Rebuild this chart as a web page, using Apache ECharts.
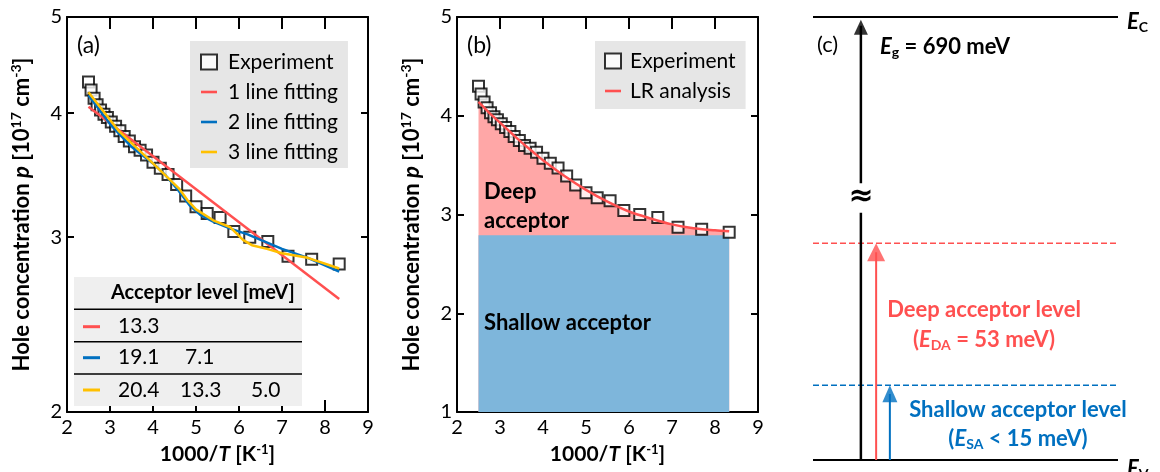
<!DOCTYPE html>
<html><head><meta charset="utf-8">
<script src="https://cdn.jsdelivr.net/npm/echarts@6/dist/echarts.min.js"></script>
<style>html,body{margin:0;padding:0;background:#fff}#c{width:1160px;height:472px}</style>
</head><body><div id="c"></div>
<script>
// ---------- data ----------
const invT = [2.50,2.56,2.63,2.70,2.78,2.86,2.94,3.03,3.13,3.23,3.33,3.45,3.57,3.70,3.85,4.00,4.17,4.35,4.55,4.76,5.00,5.26,5.56,5.88,6.25,6.67,7.14,7.69,8.33];
const holeP = [4.30,4.22,4.14,4.08,4.03,3.99,3.96,3.92,3.88,3.84,3.79,3.75,3.70,3.67,3.63,3.57,3.52,3.47,3.39,3.30,3.22,3.17,3.14,3.04,3.00,2.97,2.87,2.85,2.82];
const fit1X = [2.50, 8.33];
const fit1P = [4.06, 2.60];
const fit2X = [2.50,3.00,3.50,4.00,4.30,4.60,4.85,5.10,5.40,5.80,6.20,6.60,7.00,7.60,8.33];
const fit2P = [4.17,3.90,3.70,3.56,3.46,3.34,3.23,3.16,3.11,3.06,3.02,2.97,2.92,2.86,2.77];
const fit3X = [2.50,3.20,4.00,4.60,4.80,5.00,5.40,5.80,6.10,6.30,6.65,7.00,7.60,8.33];
const fit3P = [4.20,3.84,3.56,3.36,3.27,3.20,3.12,3.07,2.98,2.945,2.92,2.89,2.86,2.79];
const lrX = [2.50,2.75,3.00,3.25,3.50,3.75,4.00,4.50,5.00,5.50,6.00,6.50,7.00,7.50,8.00,8.33];
const lrP = [4.14,4.03,3.93,3.83,3.73,3.64,3.55,3.39,3.25,3.13,3.03,2.96,2.90,2.86,2.84,2.83];
const shallowX = [2.50, 8.33];
const shallowP = [2.79, 2.79];
const yLabelsA = [2,3,4,5];
const yTicksA = [3,4];
const tableHeader = 'Acceptor level [meV]';
const tableRows = [['13.3'],['19.1','7.1'],['20.4','13.3','5.0']];
// energy diagram (arbitrary energy units, Ev = 0, Ec = 100; axis broken)
const levelEv = 0, levelEc = 100, levelDeep = 48.9, levelShallow = 16.9;
const breakLow = 55.8, breakHigh = 62.5;
const arrowGapX = 0.157, arrowDeepX = 0.207, arrowShallowX = 0.252;

// ---------- styles ----------
const FF = 'Lato, "Open Sans", sans-serif';
const RED = '#ff5050', BLUE = '#0070c0', YEL = '#ffc000';
const PINK = '#ffa7a7', LBLUE = '#7eb6db';
const zip = (a,b) => a.map((v,i)=>[v,b[i]]);
const LINE_ICON = 'path://M0,0L16,0L16,2.6L0,2.6Z';

const nameRich = {
  b:{fontFamily:FF,fontSize:21,fontWeight:'bold',color:'#000'},
  i:{fontFamily:FF,fontSize:21,fontWeight:'bold',fontStyle:'italic',color:'#000'},
  sup:{fontFamily:FF,fontSize:13,fontWeight:'bold',color:'#000',padding:[0,0,10,0]}
};
const nameRichY = {
  b:{fontFamily:FF,fontSize:22,fontWeight:'bold',color:'#000'},
  i:{fontFamily:FF,fontSize:22,fontWeight:'bold',fontStyle:'italic',color:'#000'},
  sup:{fontFamily:FF,fontSize:14,fontWeight:'bold',color:'#000',padding:[0,0,11,0]}
};
const yName = '{b|Hole concentration }{i|p}{b| [10}{sup|17}{b| cm}{sup|-3}{b|]}';
const xName = '{b|1000/}{i|T}{b| [K}{sup|-1}{b|]}';
const axLine = {show:true,onZero:false,lineStyle:{color:'#000',width:2}};
const lbl = {color:'#000',fontFamily:FF,fontSize:20};

function xAxes(g){
  return [
    {gridIndex:g,type:'value',min:2,max:9,interval:1,position:'bottom',axisLine:axLine,
     axisTick:{inside:true,length:12,lineStyle:{color:'#000',width:2}},
     axisLabel:Object.assign({margin:6},lbl),splitLine:{show:false},
     name:xName,nameLocation:'middle',nameGap:29,nameTextStyle:{rich:nameRich}},
    {gridIndex:g,type:'value',min:2,max:9,interval:1,position:'top',axisLine:axLine,
     axisTick:{inside:true,length:12,lineStyle:{color:'#000',width:2}},
     axisLabel:{show:false},splitLine:{show:false}}
  ];
}

const graphics = [];
function txt(x,y,text,opt){
  graphics.push({type:'text',x:x,y:y,z:100,style:Object.assign({text:text,fill:'#000',fontFamily:FF,fontSize:20,verticalAlign:'middle',align:'left'},opt||{})});
}
// panel labels
txt(77,46,'(a)',{fontSize:23});
txt(467,46,'(b)',{fontSize:23});
txt(817,45,'(c)',{fontSize:22});
// panel b region texts
txt(484,192,'Deep',{fontWeight:'bold',fontSize:22});
txt(484,221,'acceptor',{fontWeight:'bold',fontSize:22});
txt(484,323,'Shallow acceptor',{fontWeight:'bold',fontSize:22});
// table in panel a
graphics.push({type:'rect',shape:{x:74,y:277,width:228,height:129},style:{fill:'#efefef'},z:90});
txt(111,293,tableHeader,{fontWeight:'bold'});
const rowY = [326.7,357.7,390];
const rowCol = [RED,BLUE,YEL];
const colX = [[118],[118,185],[118,180,251]];
[309.3,341.7,374].forEach(y=>graphics.push({type:'line',shape:{x1:74,y1:y,x2:302,y2:y},style:{stroke:'#000',lineWidth:1.5},z:95}));
tableRows.forEach((r,i)=>{
  graphics.push({type:'line',shape:{x1:83,y1:rowY[i],x2:100,y2:rowY[i]},style:{stroke:rowCol[i],lineWidth:3},z:95});
  r.forEach((v,j)=>txt(colX[i][j],rowY[i],v,{fontSize:21}));
});
// panel c texts
const eRich = {
  e:{fontFamily:FF,fontSize:22,fontWeight:'bold',fontStyle:'italic'},
  s:{fontFamily:FF,fontSize:14,fontWeight:'bold',padding:[10,0,0,0]},
  n:{fontFamily:FF,fontSize:22,fontWeight:'bold'}
};
function rtxt(x,y,text,color,align){
  const rich = {};
  Object.keys(eRich).forEach(k=>rich[k]=Object.assign({fill:color},eRich[k]));
  graphics.push({type:'text',x:x,y:y,z:100,style:{text:text,rich:rich,fill:color,align:align||'left',verticalAlign:'middle',fontFamily:FF}});
}
rtxt(880,47,'{e|E}{s|g}{n| = 690 meV}','#000');
rtxt(1127,22,'{e|E}{s|C}','#000');
rtxt(1127,469,'{e|E}{s|V}','#000');
rtxt(984,310,'{n|Deep acceptor level}',RED,'center');
rtxt(984,340,'{n|(}{e|E}{s|DA}{n| = 53 meV)}',RED,'center');
rtxt(1018,410,'{n|Shallow acceptor level}',BLUE,'center');
rtxt(1018,439,'{n|(}{e|E}{s|SA}{n| < 15 meV)}',BLUE,'center');
txt(861,197,'≈',{fontSize:30,fontWeight:'bold',align:'center',fontFamily:'"DejaVu Sans"'});

const sqStyle = {color:'#fff',borderColor:'#000',borderWidth:2};
const option = {
  animation:false,
  backgroundColor:'#fff',
  textStyle:{fontFamily:FF},
  grid:[
    {left:67,top:17,width:301,height:395},
    {left:457,top:17,width:301,height:395},
    {left:813,top:17,width:305,height:443}
  ],
  xAxis:[...xAxes(0),...xAxes(1),
    {gridIndex:2,type:'value',min:0,max:1,show:false}],
  yAxis:[
    {gridIndex:0,type:'log',logBase:10,min:2,max:5,position:'left',axisLine:axLine,
     axisTick:{inside:true,length:7,lineStyle:{color:'#000',width:2},customValues:yTicksA},
     axisLabel:Object.assign({margin:5,customValues:yLabelsA},lbl),splitLine:{show:false},minorTick:{show:false},
     name:yName,nameLocation:'middle',nameGap:33,nameRotate:90,nameTextStyle:{rich:nameRichY}},
    {gridIndex:0,type:'log',logBase:10,min:2,max:5,position:'right',axisLine:axLine,
     axisTick:{inside:true,length:7,lineStyle:{color:'#000',width:2},customValues:yTicksA},
     axisLabel:{show:false},splitLine:{show:false}},
    {gridIndex:1,type:'value',min:1,max:5,interval:1,position:'left',axisLine:axLine,
     axisTick:{inside:true,length:7,lineStyle:{color:'#000',width:2}},
     axisLabel:Object.assign({margin:5},lbl),splitLine:{show:false},
     name:yName,nameLocation:'middle',nameGap:33,nameRotate:90,nameTextStyle:{rich:nameRichY}},
    {gridIndex:1,type:'value',min:1,max:5,interval:1,position:'right',axisLine:axLine,
     axisTick:{inside:true,length:7,lineStyle:{color:'#000',width:2}},
     axisLabel:{show:false},splitLine:{show:false}},
    {gridIndex:2,type:'value',min:0,max:100,show:false}
  ],
  legend:[
    {left:190,top:41,orient:'vertical',backgroundColor:'#e6e6e6',padding:[10,10,5,10],itemGap:8,
     itemWidth:16,itemHeight:15,textStyle:{fontFamily:FF,fontSize:21,color:'#000',lineHeight:22,padding:[0,0,0,6]},
     data:[{name:'Experiment',icon:'rect'},{name:'1 line fitting',icon:LINE_ICON},{name:'2 line fitting',icon:LINE_ICON},{name:'3 line fitting',icon:LINE_ICON}]},
    {left:595,top:41,orient:'vertical',backgroundColor:'#e6e6e6',padding:[9,10,7,9],itemGap:8,
     itemWidth:16,itemHeight:15,textStyle:{fontFamily:FF,fontSize:21,color:'#000',lineHeight:22,padding:[0,0,0,4]},
     data:[{name:'Experiment',icon:'rect'},{name:'LR analysis',icon:LINE_ICON}]}
  ],
  graphic:graphics,
  series:[
    // panel a
    {name:'Experiment',type:'scatter',xAxisIndex:0,yAxisIndex:0,symbol:'rect',symbolSize:11,itemStyle:sqStyle,data:zip(invT,holeP),z:3},
    {name:'1 line fitting',type:'line',xAxisIndex:0,yAxisIndex:0,symbol:'none',lineStyle:{color:RED,width:2.5},itemStyle:{color:RED},data:zip(fit1X,fit1P),z:4},
    {name:'2 line fitting',type:'line',xAxisIndex:0,yAxisIndex:0,symbol:'none',lineStyle:{color:BLUE,width:2.5},itemStyle:{color:BLUE},data:zip(fit2X,fit2P),z:5},
    {name:'3 line fitting',type:'line',xAxisIndex:0,yAxisIndex:0,symbol:'none',lineStyle:{color:YEL,width:2.5},itemStyle:{color:YEL},data:zip(fit3X,fit3P),z:6},
    // panel b
    {name:'deepArea',type:'line',xAxisIndex:2,yAxisIndex:2,symbol:'none',smooth:0.3,lineStyle:{width:0},areaStyle:{color:PINK,opacity:1,origin:'start'},data:zip(lrX,lrP),z:1},
    {name:'shallowArea',type:'line',xAxisIndex:2,yAxisIndex:2,symbol:'none',lineStyle:{width:0},areaStyle:{color:LBLUE,opacity:1,origin:'start'},data:zip(shallowX,shallowP),z:2},
    {name:'Experiment',type:'scatter',xAxisIndex:2,yAxisIndex:2,symbol:'rect',symbolSize:11,itemStyle:sqStyle,data:zip(invT,holeP),z:3},
    {name:'LR analysis',type:'line',xAxisIndex:2,yAxisIndex:2,symbol:'none',smooth:0.3,lineStyle:{color:RED,width:2.5},itemStyle:{color:RED},data:zip(lrX,lrP),z:4},
    // panel c
    {type:'line',xAxisIndex:4,yAxisIndex:4,symbol:'none',lineStyle:{color:'#000',width:2},data:[[0,levelEc],[1,levelEc]]},
    {type:'line',xAxisIndex:4,yAxisIndex:4,symbol:'none',lineStyle:{color:'#000',width:2},data:[[0,levelEv],[1,levelEv]]},
    {type:'line',xAxisIndex:4,yAxisIndex:4,symbol:'none',lineStyle:{color:RED,width:1.5,type:[6,3]},data:[[0,levelDeep],[1,levelDeep]]},
    {type:'line',xAxisIndex:4,yAxisIndex:4,symbol:'none',lineStyle:{color:BLUE,width:1.5,type:[6,3]},data:[[0,levelShallow],[1,levelShallow]]},
    {type:'line',xAxisIndex:4,yAxisIndex:4,symbol:'none',lineStyle:{color:'#000',width:2.5},data:[[arrowGapX,levelEv],[arrowGapX,breakLow]]},
    {type:'line',xAxisIndex:4,yAxisIndex:4,symbol:'none',lineStyle:{color:'#000',width:2.5},data:[[arrowGapX,breakHigh],[arrowGapX,levelEc-2]]},
    {type:'line',xAxisIndex:4,yAxisIndex:4,symbol:'none',lineStyle:{color:RED,width:2},data:[[arrowDeepX,levelEv],[arrowDeepX,levelDeep-2]]},
    {type:'line',xAxisIndex:4,yAxisIndex:4,symbol:'none',lineStyle:{color:BLUE,width:2},data:[[arrowShallowX,levelEv],[arrowShallowX,levelShallow-2]]},
    {type:'scatter',xAxisIndex:4,yAxisIndex:4,symbol:'triangle',symbolSize:[14,15],symbolOffset:[0,'50%'],itemStyle:{color:'#000'},data:[[arrowGapX,levelEc-0.6]],z:5},
    {type:'scatter',xAxisIndex:4,yAxisIndex:4,symbol:'triangle',symbolSize:[18,18],symbolOffset:[0,'50%'],itemStyle:{color:RED},data:[[arrowDeepX,levelDeep]],z:5},
    {type:'scatter',xAxisIndex:4,yAxisIndex:4,symbol:'triangle',symbolSize:[15,17],symbolOffset:[0,'50%'],itemStyle:{color:BLUE},data:[[arrowShallowX,levelShallow]],z:5}
  ]
};
echarts.init(document.getElementById('c'),null,{renderer:'canvas'}).setOption(option);
</script></body></html>
